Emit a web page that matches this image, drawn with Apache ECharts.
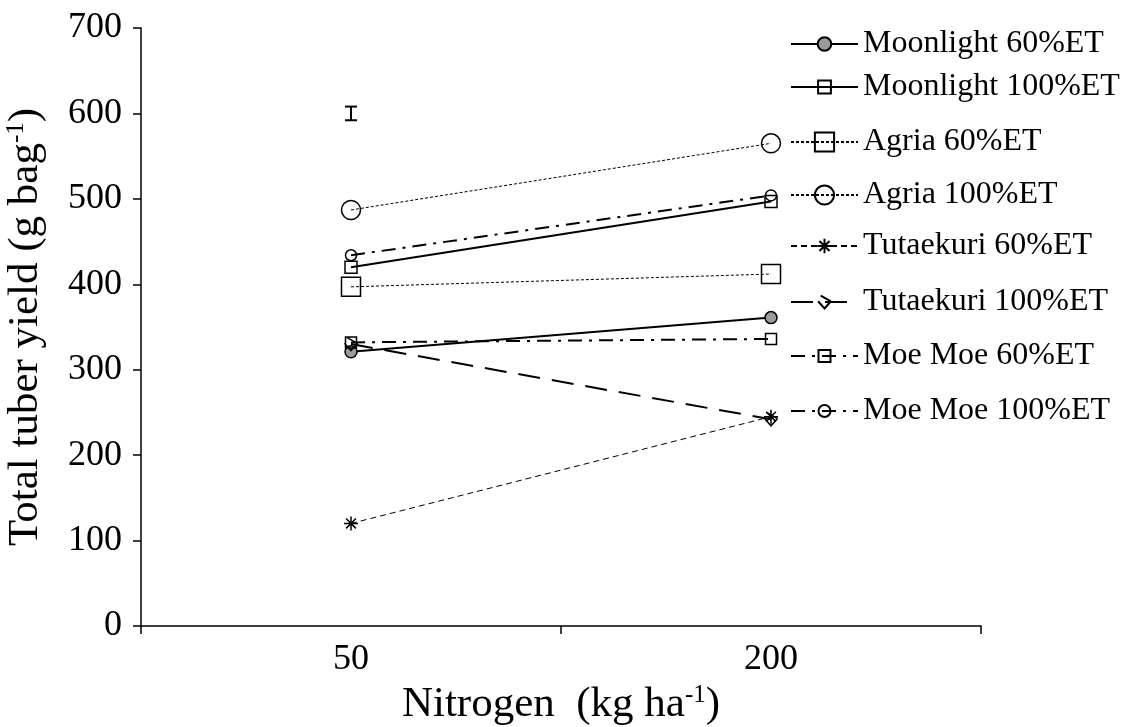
<!DOCTYPE html>
<html><head><meta charset="utf-8">
<script src="https://cdn.jsdelivr.net/npm/echarts@6/dist/echarts.min.js"></script>
<style>html,body{margin:0;padding:0;background:#fff}#c{width:1125px;height:727px}</style>
</head><body><div id="c"></div>
<script>
var categories = ['50', '200'];
var seriesNames = ['Moonlight 60%ET','Moonlight 100%ET','Agria 60%ET','Agria 100%ET','Tutaekuri 60%ET','Tutaekuri 100%ET','Moe Moe 60%ET','Moe Moe 100%ET'];
var moonlight60 = [321, 361];
var moonlight100 = [420, 497];
var agria60 = [397, 412];
var agria100 = [487, 565];
var tutaekuri60 = [120, 245];
var tutaekuri100 = [330, 242];
var moemoe60 = [332, 336];
var moemoe100 = [434, 504];
var errorBar = [[0, 592, 608]];
var yTicks = [0, 100, 200, 300, 400, 500, 600, 700];

var FONT = 'Liberation Serif';
var ASTER = 'path://M0,5L10,5M5,0L5,10M1.5,1.5L8.5,8.5M8.5,1.5L1.5,8.5';
var TUT = 'path://M0,5L5,10L10,5M2,1L10,5';

var styles = [
  {symbol:'circle', size:12, fill:'#9b9b9b', line:{type:'solid', width:2}, lh:17},
  {symbol:'rect', size:12, fill:'rgba(0,0,0,0)', line:{type:'solid', width:2}, lh:16},
  {symbol:'rect', size:19, fill:'rgba(0,0,0,0)', line:{type:[3,2], width:1}, lh:24},
  {symbol:'circle', size:19, fill:'rgba(0,0,0,0)', line:{type:[3,2], width:1}, lh:24},
  {symbol:ASTER, size:14, fill:'rgba(0,0,0,0)', line:{type:[6,4], width:1}, lh:18},
  {symbol:TUT, size:13, fill:'rgba(0,0,0,0)', line:{type:[22,12], width:2}, lh:16},
  {symbol:'rect', size:11, fill:'rgba(0,0,0,0)', line:{type:[14,7,3,7], width:2}, lh:15},
  {symbol:'circle', size:11, fill:'rgba(0,0,0,0)', line:{type:[14,7,3,7], width:2}, lh:15}
];
var values = [moonlight60, moonlight100, agria60, agria100, tutaekuri60, tutaekuri100, moemoe60, moemoe100];
var legendY = [43, 86, 141, 194, 245, 301, 355, 410];

var series = values.map(function(v, i){
  var s = styles[i];
  return {
    name: seriesNames[i], type:'line', data: v,
    symbol: s.symbol, symbolSize: s.size,
    lineStyle:{color:'#000', width:s.line.width, type:s.line.type},
    itemStyle:{color:s.fill, borderColor:'#000', borderWidth:1.5},
    emphasis:{disabled:true}, animation:false, z: 2
  };
});
series.push({
  type:'custom', data: errorBar, animation:false, z:3,
  renderItem: function(params, api){
    var lo = api.coord([api.value(0), api.value(1)]);
    var hi = api.coord([api.value(0), api.value(2)]);
    var w = 6;
    return {type:'group', children:[
      {type:'line', shape:{x1:lo[0], y1:lo[1], x2:hi[0], y2:hi[1]}, style:{stroke:'#000', lineWidth:2}},
      {type:'line', shape:{x1:lo[0]-w, y1:lo[1], x2:lo[0]+w, y2:lo[1]}, style:{stroke:'#000', lineWidth:2}},
      {type:'line', shape:{x1:hi[0]-w, y1:hi[1], x2:hi[0]+w, y2:hi[1]}, style:{stroke:'#000', lineWidth:2}}
    ]};
  }
});

var legends = seriesNames.map(function(n, i){
  return {
    data:[n], left:790, top: legendY[i] - 15, orient:'vertical',
    itemWidth:67, itemHeight: styles[i].lh, selectedMode:false, padding:0,
    textStyle:{fontFamily:FONT, fontSize:32, lineHeight:32, color:'#000'}
  };
});

var chart = echarts.init(document.getElementById('c'));
chart.setOption({
  backgroundColor:'#fff',
  animation:false,
  grid:{left:141, right:144, top:28, bottom:101, containLabel:false, outerBoundsMode:'none'},
  legend: legends,
  xAxis:{
    type:'category', data:categories, boundaryGap:true,
    axisLine:{lineStyle:{color:'#000', width:1.5}},
    axisTick:{show:true, length:8, lineStyle:{color:'#000', width:1.5}},
    axisLabel:{fontFamily:FONT, fontSize:36, color:'#000', margin:16},
    name:'Nitrogen  (kg ha{sup|-1})', nameLocation:'middle', nameGap:52,
    nameTextStyle:{fontFamily:FONT, fontSize:43, color:'#000', lineHeight:44,
      rich:{sup:{fontFamily:FONT, fontSize:25, color:'#000', verticalAlign:'top', lineHeight:22}}}
  },
  yAxis:{
    type:'value', min:yTicks[0], max:yTicks[yTicks.length-1], interval:100,
    axisLine:{show:true, lineStyle:{color:'#000', width:1.5}},
    axisTick:{show:true, length:8, lineStyle:{color:'#000', width:1.5}},
    splitLine:{show:false},
    axisLabel:{fontFamily:FONT, fontSize:36, color:'#000', margin:19},
    name:'Total tuber yield (g bag{sup|-1})', nameLocation:'middle', nameGap:93, nameRotate:90,
    nameTextStyle:{fontFamily:FONT, fontSize:43, color:'#000', lineHeight:44,
      rich:{sup:{fontFamily:FONT, fontSize:25, color:'#000', verticalAlign:'top', lineHeight:22}}}
  },
  series: series
});
</script></body></html>
